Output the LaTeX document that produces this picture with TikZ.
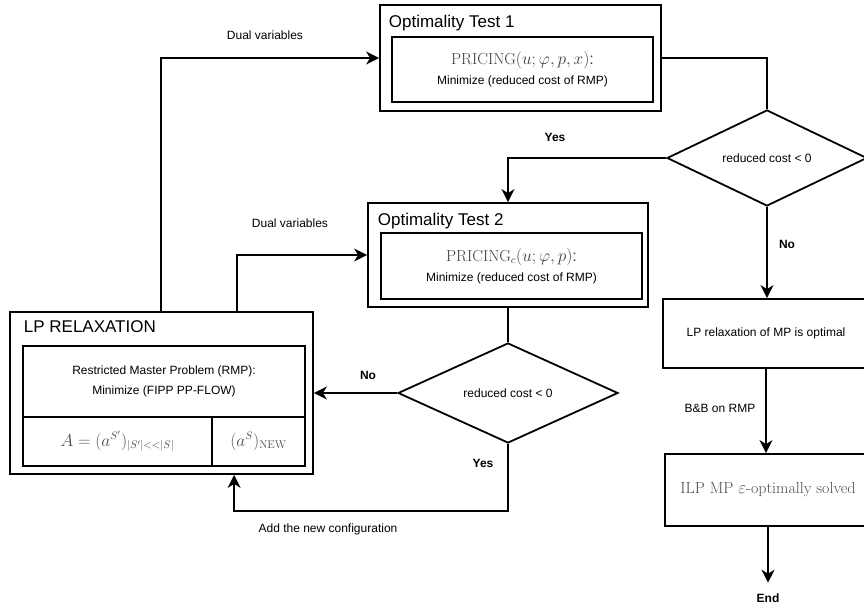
\documentclass[tikz,border=0pt]{standalone}
\usepackage{fontspec}
\newfontfamily\lsans{Liberation Sans}
\usetikzlibrary{shapes.geometric,arrows.meta}

\begin{document}
\begin{tikzpicture}[x=1pt,y=-1pt,
  line width=1.8pt,
  box/.style={draw, rectangle, inner sep=0pt, align=center},
  decision/.style={draw, diamond, shape aspect=2, inner sep=0pt,
    font=\lsans\fontsize{12}{14}\selectfont},
  flow/.style={-{Stealth[length=13pt,width=13pt,inset=4pt]}},
  link/.style={},
  lbl/.style={font=\lsans\fontsize{12}{14}\selectfont, inner sep=0pt},
  yesno/.style={font=\lsans\bfseries\fontsize{12}{14}\selectfont, inner sep=0pt},
  title/.style={font=\lsans\fontsize{17}{20}\selectfont, inner sep=0pt, anchor=base west},
  body/.style={font=\lsans\fontsize{12}{20}\selectfont},
  mth/.style={font=\fontsize{16}{19}\selectfont, text=black!70}]

\useasboundingbox (0,0) rectangle (864,609);
\clip (0,0) rectangle (864,609);

% Optimality test 1
\node[box, minimum width=281pt, minimum height=106pt] (t1) at (520.5,58) {};
\node[title] (t1title) at (388,28) {Optimality Test 1};
\node[box, body, minimum width=261pt, minimum height=65pt] (t1in) at (522.5,69.5)
  {\textcolor{black!75}{\fontsize{16}{19}\selectfont$\mathrm{PRICING}(u;\varphi,p,x)$:}\\
   Minimize (reduced cost of RMP)};

% Optimality test 2
\node[box, minimum width=280pt, minimum height=104pt] (t2) at (508,255) {};
\node[title] (t2title) at (377,226) {Optimality Test 2};
\node[box, body, minimum width=261pt, minimum height=66pt] (t2in) at (511.5,266)
  {\textcolor{black!75}{\fontsize{16}{19}\selectfont$\mathrm{PRICING}_c(u;\varphi,p)$:}\\
   Minimize (reduced cost of RMP)};

% LP relaxation
\node[box, minimum width=303pt, minimum height=162pt] (lp) at (161.5,393) {};
\node[title] (lptitle) at (23,332) {LP RELAXATION};
\node[box, body, minimum width=282pt, minimum height=71pt] (rmp) at (164,381.5)
  {Restricted Master Problem (RMP):\\Minimize (FIPP PP-FLOW)};
\node[box, mth, minimum width=189pt, minimum height=49pt] (cols) at (117.5,441.5)
  {$A=(a^{S'})_{|S'|<<|S|}$};
\node[box, mth, minimum width=93pt, minimum height=49pt] (newcol) at (258.5,441.5)
  {$(a^S)_{\mathrm{NEW}}$};

% Decisions
\node[decision, minimum width=200pt, minimum height=96pt] (d1) at (767,158) {reduced cost < 0};
\node[decision, minimum width=220pt, minimum height=100pt] (d2) at (508,393) {reduced cost < 0};

% Right column
\node[box, body, minimum width=206pt, minimum height=69pt] (lpopt) at (766,333.5)
  {LP relaxation of MP is optimal};
\node[box, mth, minimum width=206pt, minimum height=72pt] (ilp) at (768,490)
  {ILP MP $\varepsilon$-optimally solved};
\node[yesno] (end) at (768,598) {End};

% Connectors
\draw[flow] ([xshift=152pt]lp.north west) |- (t1.west);
\draw[flow] ([xshift=228pt]lp.north west) |- (t2.west);
\draw[link] (t1.east) -| (d1.north);
\draw[flow] (d1.west) -| (t2.north);
\draw[flow] (d1.south) -- (d1.south |- lpopt.north);
\draw[link] (t2.south) -- (d2.north);
\draw[flow] (d2.west) -- (d2.west -| lp.east);
\coordinate (back) at (507,511);
\draw[flow] (d2.south) -- (d2.south |- back) -| ([xshift=225pt]lp.south west);
\draw[flow] (lpopt.south) -- (lpopt.south |- ilp.north);
\draw[flow] (ilp.south) -- ([yshift=10pt]end.north);

% Labels
\node[lbl] (dv1) at (265,35) {Dual variables};
\node[lbl] (dv2) at (290,223) {Dual variables};
\node[yesno] (yes1) at (555,137) {Yes};
\node[yesno] (no1) at (787,244) {No};
\node[yesno] (no2) at (368,375) {No};
\node[yesno] (yes2) at (483,463) {Yes};
\node[lbl] (addnew) at (328,529) {Add the new configuration};
\node[lbl] (bb) at (720,408) {B\&B on RMP};
\end{tikzpicture}
\end{document}
